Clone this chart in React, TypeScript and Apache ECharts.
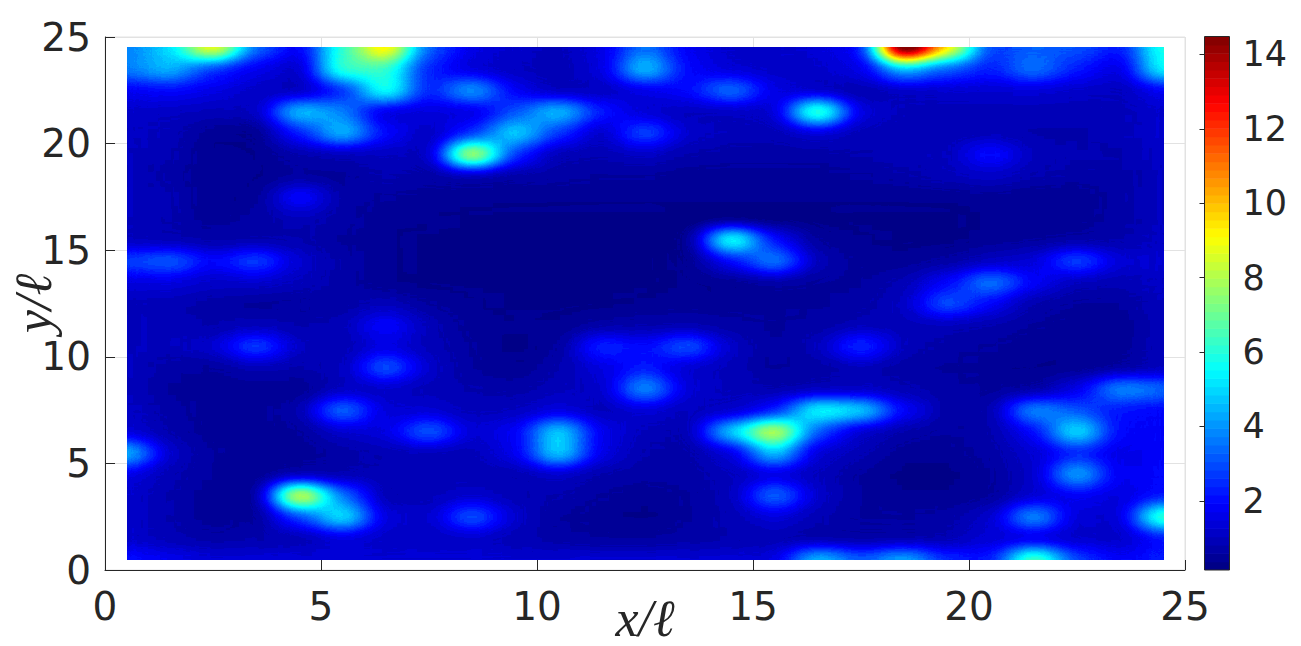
import React, { useEffect, useRef } from "react";
import * as echarts from "echarts";

// Field values on the 25 x 25 node grid (x = 0.5 ... 24.5), one list per row
const y24_5 = [3.8,5.0,8.6,3.4,2.0,6.0,9.0,3.4,1.6,1.2,1.0,1.6,3.4,1.8,1.2,1.2,1.4,2.5,14.5,9.0,3.0,3.2,3.0,2.4,5.6];
const y23_5 = [3.6,4.4,2.8,1.8,1.4,6.0,6.0,2.6,1.5,1.1,0.9,1.5,4.4,2.0,1.4,1.2,1.2,1.8,4.6,3.4,2.4,3.4,2.2,1.6,5.2];
const y22_5 = [1.8,2.0,1.6,1.2,1.2,2.6,5.6,2.4,3.9,1.8,1.1,1.2,1.6,2.0,3.3,1.6,1.2,1.0,1.2,1.3,1.3,1.4,1.2,1.1,1.8];
const y21_5 = [1.2,1.1,1.0,1.1,4.4,3.6,1.6,1.6,1.6,3.0,4.4,2.2,1.3,1.1,1.1,1.4,6.0,1.5,1.0,0.9,0.9,0.9,0.9,1.0,1.2];
const y20_5 = [1.1,0.9,0.5,0.5,2.2,4.3,2.0,1.2,2.6,4.8,2.6,1.2,2.8,1.2,1.0,1.0,1.4,1.0,0.9,0.9,0.9,0.8,0.8,0.9,1.2];
const y19_5 = [1.0,0.8,0.4,0.4,0.8,1.0,1.1,1.2,7.6,2.6,1.0,0.9,1.1,0.8,0.7,0.7,0.7,0.8,0.9,1.0,2.0,1.0,0.8,0.8,1.1];
const y18_5 = [1.0,0.7,0.4,0.4,0.6,0.6,0.8,0.8,1.0,0.8,0.7,0.6,0.6,0.5,0.5,0.5,0.5,0.6,0.7,0.9,1.1,0.8,0.7,0.7,1.0];
const y17_5 = [1.0,0.8,0.4,0.5,1.9,0.7,0.6,0.5,0.5,0.4,0.4,0.4,0.4,0.4,0.4,0.4,0.4,0.4,0.4,0.4,0.5,0.4,0.4,0.7,1.0];
const y16_5 = [1.0,0.8,0.5,0.7,0.9,0.7,0.4,0.4,0.3,0.3,0.3,0.3,0.3,0.3,0.3,0.3,0.3,0.3,0.3,0.3,0.4,0.4,0.5,0.7,1.0];
const y15_5 = [1.1,0.9,0.8,0.8,0.8,0.6,0.4,0.3,0.3,0.3,0.3,0.3,0.3,0.5,5.5,2.0,0.6,0.4,0.3,0.3,0.5,0.6,0.7,0.8,1.1];
const y14_5 = [2.6,3.0,1.8,2.6,1.2,0.7,0.4,0.3,0.3,0.3,0.3,0.3,0.3,0.5,1.9,3.5,1.0,0.5,0.5,0.7,1.1,1.4,2.7,1.3,1.2];
const y13_5 = [1.5,1.5,1.2,1.2,1.0,0.7,0.4,0.3,0.3,0.3,0.3,0.3,0.3,0.4,0.5,0.7,0.6,0.6,0.9,1.8,3.4,1.8,1.0,0.9,1.1];
const y12_5 = [1.0,0.9,0.7,0.6,0.6,0.7,0.9,0.6,0.4,0.3,0.3,0.3,0.4,0.5,0.5,0.5,0.6,0.7,1.1,2.9,1.8,0.8,0.6,0.6,1.0];
const y11_5 = [1.0,0.9,0.8,1.0,0.8,0.9,1.9,0.9,0.5,0.4,0.4,0.7,0.8,0.8,0.7,0.6,0.7,0.9,1.0,1.0,0.8,0.6,0.5,0.5,0.9];
const y10_5 = [1.0,0.9,1.2,2.6,1.1,0.9,1.5,1.0,0.6,0.3,0.6,2.3,1.9,2.9,1.1,0.6,1.0,2.4,1.0,0.7,0.6,0.4,0.5,0.5,1.0];
const y9_5 = [1.0,0.7,0.6,0.9,0.8,1.0,2.9,1.2,0.6,0.4,0.8,1.5,2.2,1.3,1.0,0.6,0.7,1.0,0.7,0.6,0.5,0.4,0.5,0.7,1.1];
const y8_5 = [1.0,0.6,0.5,0.5,0.5,1.1,1.2,1.0,0.8,0.7,1.0,1.2,3.7,1.4,1.0,0.9,1.1,1.2,0.9,0.7,0.6,0.7,1.6,3.6,3.2];
const y7_5 = [1.1,0.7,0.5,0.5,0.8,3.2,1.4,1.3,1.0,1.1,1.5,1.1,1.4,1.1,1.3,2.4,5.3,4.6,1.8,0.7,0.8,3.7,3.0,2.2,2.0];
const y6_5 = [1.4,0.8,0.5,0.5,0.6,1.2,1.5,3.0,1.3,1.8,4.6,1.7,1.0,0.9,4.6,7.8,3.2,1.4,0.8,0.6,0.8,2.0,4.9,2.0,1.9];
const y5_5 = [4.2,1.2,0.6,0.5,0.5,0.7,0.9,1.0,1.0,1.7,4.6,1.6,0.8,0.8,1.6,4.6,1.5,0.9,0.5,0.5,0.7,1.4,2.4,1.7,1.9];
const y4_5 = [1.6,0.9,0.6,0.6,1.0,1.0,0.9,0.9,0.9,0.9,1.2,0.8,0.7,0.7,1.1,1.5,1.1,0.6,0.3,0.3,0.6,1.2,4.0,1.7,2.0];
const y3_5 = [1.2,0.8,0.5,0.7,8.0,3.4,1.0,1.0,1.2,0.9,0.8,0.6,0.4,0.6,1.0,3.2,1.2,0.6,0.4,0.4,0.6,1.3,1.8,1.6,2.2];
const y2_5 = [1.2,0.8,0.5,0.7,2.8,5.0,1.5,1.2,2.9,1.2,0.6,0.5,0.3,0.6,0.9,1.4,0.9,0.6,0.6,0.7,1.2,3.7,1.4,1.5,6.0];
const y1_5 = [1.2,0.9,0.7,0.8,1.0,1.5,1.2,1.1,1.2,0.9,0.7,0.6,0.6,0.7,0.8,0.9,0.8,0.8,0.8,0.9,1.5,1.6,1.4,1.3,2.2];
const y0_5 = [2.0,1.6,1.3,1.3,1.4,1.4,1.3,1.3,1.3,1.2,1.2,1.2,1.2,1.2,1.3,1.5,4.3,3.0,4.0,2.4,2.2,6.2,2.8,1.8,2.2];

const rowsBottomUp = [y0_5,y1_5,y2_5,y3_5,y4_5,y5_5,y6_5,y7_5,y8_5,y9_5,y10_5,y11_5,y12_5,y13_5,y14_5,y15_5,y16_5,y17_5,y18_5,y19_5,y20_5,y21_5,y22_5,y23_5,y24_5];

const nodeCategories = rowsBottomUp.map((_, i) => String(i + 0.5));
const axisTicks = [0, 5, 10, 15, 20, 25];
const colorbarTicks = [2, 4, 6, 8, 10, 12, 14];
const colorMin = 0.14;
const colorMax = 14.48;
const levelCount = 64;

// MATLAB's jet colormap
const clamp01 = (v: number) => Math.max(0, Math.min(1, v));
const jet = Array.from({ length: levelCount }, (_, i) => {
  const t = (i + 0.5) / levelCount;
  return [
    clamp01(Math.min(4 * t - 1.5, -4 * t + 4.5)),
    clamp01(Math.min(4 * t - 0.5, -4 * t + 3.5)),
    clamp01(Math.min(4 * t + 0.5, -4 * t + 2.5)),
  ];
});
const jetCss = jet.map((c) => `rgb(${c.map((v) => Math.round(v * 255)).join(",")})`);
const tableOf = (k: number) => jet.map((c) => c[k].toFixed(4)).join(" ");

const INK = "#262626";
const GRID = "#e2e2e2";
const TICK_FONT = "DejaVu Sans";

export default function App() {
  const mainRef = useRef<HTMLDivElement>(null);
  const heatRef = useRef<HTMLDivElement>(null);

  useEffect(() => {
    const main = echarts.init(mainRef.current!, null, { renderer: "svg" });
    const heat = echarts.init(heatRef.current!, null, { renderer: "svg" });

    const nameStyle = {
      fontFamily: "Liberation Serif",
      fontStyle: "italic" as const,
      fontSize: 52,
      color: INK,
    };
    const axisFont = { color: INK, fontFamily: TICK_FONT, fontSize: 39 };
    const barFont = { color: INK, fontFamily: TICK_FONT, fontSize: 35 };

    main.setOption({
      animation: false,
      grid: [
        { left: 105, top: 37, width: 1080, height: 533, show: true, borderColor: GRID, borderWidth: 1, backgroundColor: "transparent", outerBoundsMode: "none" },
        { left: 1204.5, top: 36.5, width: 25, height: 533.5, show: false, outerBoundsMode: "none" },
      ],
      xAxis: [
        {
          gridIndex: 0, type: "value", min: 0, max: 25, interval: 5,
          name: "x/ℓ", nameLocation: "middle", nameGap: 22, nameMoveOverlap: false, nameTextStyle: nameStyle,
          axisLine: { show: true, lineStyle: { color: INK, width: 1 } },
          axisTick: { show: true, inside: true, length: 10, lineStyle: { color: INK } },
          axisLabel: { ...axisFont, margin: 17, customValues: axisTicks },
          splitLine: { show: true, lineStyle: { color: GRID } },
        },
        { gridIndex: 1, type: "value", min: 0, max: 1, show: false },
      ],
      yAxis: [
        {
          gridIndex: 0, type: "value", min: 0, max: 25, interval: 5,
          name: "y/ℓ", nameLocation: "middle", nameGap: 72, nameRotate: 90, nameMoveOverlap: false,
          nameTextStyle: { ...nameStyle, verticalAlign: "middle" },
          axisLine: { show: true, lineStyle: { color: INK, width: 1 } },
          axisTick: { show: true, inside: true, length: 10, lineStyle: { color: INK } },
          axisLabel: { ...axisFont, margin: 14, customValues: axisTicks },
          splitLine: { show: true, lineStyle: { color: GRID } },
        },
        {
          gridIndex: 1, type: "value", position: "right", min: colorMin, max: colorMax,
          axisLine: { show: false },
          axisTick: { show: true, inside: true, length: 5, lineStyle: { color: INK }, customValues: colorbarTicks },
          axisLabel: { ...barFont, margin: 13, customValues: colorbarTicks },
          splitLine: { show: false },
          z: 20,
        },
      ],
      series: [
        {
          type: "custom",
          xAxisIndex: 1,
          yAxisIndex: 1,
          silent: true,
          clip: true,
          z: 1,
          data: jetCss.map((_, i) => [i]),
          renderItem: (params: any, api: any) => {
            const i = api.value(0);
            const span = (colorMax - colorMin) / levelCount;
            const a = api.coord([0, colorMin + i * span]);
            const b = api.coord([1, colorMin + (i + 1) * span]);
            return {
              type: "rect",
              shape: { x: a[0], y: b[1], width: b[0] - a[0], height: a[1] - b[1] + 0.6 },
              style: { fill: jetCss[i] },
            };
          },
        },
      ],
      graphic: [
        {
          type: "rect",
          z: 100,
          silent: true,
          shape: { x: 1204.5, y: 36.5, width: 25, height: 533.5 },
          style: { fill: "none", stroke: INK, lineWidth: 1 },
        },
      ],
    });

    // The field, painted as grey levels; the SVG filter smooths it and maps it to jet.
    heat.setOption({
      animation: false,
      grid: { left: 0, right: 0, top: 0, bottom: 0, outerBoundsMode: "none" },
      xAxis: { type: "category", data: nodeCategories, show: false },
      yAxis: { type: "category", data: nodeCategories, show: false },
      visualMap: {
        show: false, min: colorMin, max: colorMax, calculable: false,
        inRange: { color: ["#000000", "#ffffff"] },
      },
      series: [
        {
          type: "heatmap",
          silent: true,
          data: rowsBottomUp.flatMap((row, j) => row.map((v, i) => [i, j, v])),
        },
      ],
    });

    return () => {
      main.dispose();
      heat.dispose();
    };
  }, []);

  return (
    <div style={{ position: "absolute", left: 0, top: 0, width: 1301, height: 646, background: "#fff", overflow: "hidden" }}>
      <svg width="0" height="0" style={{ position: "absolute" }}>
        <filter id="fieldSmooth" colorInterpolationFilters="sRGB" x="-5%" y="-5%" width="110%" height="110%">
          <feGaussianBlur in="SourceGraphic" stdDeviation="16 8" result="a" />
          <feComponentTransfer in="a" result="a1">
            <feFuncA type="discrete" tableValues="1" />
          </feComponentTransfer>
          <feGaussianBlur in="SourceGraphic" stdDeviation="30 15" result="b" />
          <feComponentTransfer in="b" result="b1">
            <feFuncA type="discrete" tableValues="1" />
          </feComponentTransfer>
          <feComposite in="a1" in2="b1" operator="arithmetic" k1="0" k2="1.6" k3="-0.6" k4="0" result="s" />
          <feComponentTransfer in="s">
            <feFuncR type="discrete" tableValues={tableOf(0)} />
            <feFuncG type="discrete" tableValues={tableOf(1)} />
            <feFuncB type="discrete" tableValues={tableOf(2)} />
          </feComponentTransfer>
        </filter>
      </svg>
      <div ref={mainRef} style={{ position: "absolute", left: 0, top: 0, width: 1301, height: 646 }} />
      <div style={{ position: "absolute", left: 127, top: 47, width: 1037, height: 513, overflow: "hidden" }}>
        <div style={{ position: "absolute", left: -22, top: -10, width: 1080, height: 533, filter: "url(#fieldSmooth)" }}>
          <div ref={heatRef} style={{ width: 1080, height: 533 }} />
        </div>
      </div>
    </div>
  );
}
